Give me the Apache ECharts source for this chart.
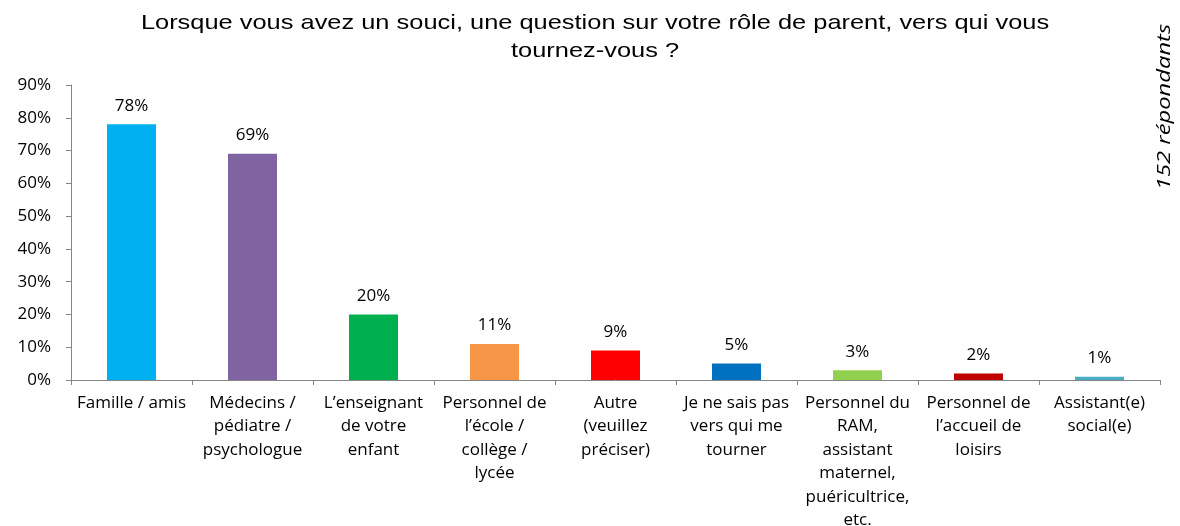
<!DOCTYPE html>
<html>
<head>
<meta charset="utf-8">
<script src="https://cdn.jsdelivr.net/npm/echarts@6/dist/echarts.min.js"></script>
<style>
  html, body { margin: 0; padding: 0; background: #fff; }
  #chart { width: 1180px; height: 526px; }
</style>
</head>
<body>
<div id="chart"></div>
<script>
// Answer categories (line breaks as shown under the axis)
const categories = [
  'Famille / amis',
  'Médecins /\npédiatre /\npsychologue',
  'L\u2019enseignant\nde votre\nenfant',
  'Personnel de\nl\u2019école /\ncollège /\nlycée',
  'Autre\n(veuillez\npréciser)',
  'Je ne sais pas\nvers qui me\ntourner',
  'Personnel du\nRAM,\nassistant\nmaternel,\npuéricultrice,\netc.',
  'Personnel de\nl\u2019accueil de\nloisirs',
  'Assistant(e)\nsocial(e)'
];
// Share of respondents, in percent
const values = [78, 69, 20, 11, 9, 5, 3, 2, 1];
const barColors = ['#00B0F0', '#8064A2', '#00B050', '#F79646', '#FF0000', '#0070C0', '#92D050', '#C00000', '#4BACC6'];
const yTicks = { min: 0, max: 90, interval: 10 };
const titleLines = [
  'Lorsque vous avez un souci, une question sur votre rôle de parent, vers qui vous',
  'tournez-vous ?'
];
const sideNote = '152 répondants';

const chart = echarts.init(document.getElementById('chart'));
const labelFont = '"Open Sans", "Noto Sans", sans-serif';

// Title lines, slightly widened sans-serif
const titleGraphics = titleLines.map((line, i) => ({
  type: 'text',
  x: 595,
  y: 23 + i * 28,
  scaleX: 1.21,
  style: {
    text: line,
    font: '21px "Liberation Sans", Arial, sans-serif',
    fill: '#000',
    textAlign: 'center',
    textVerticalAlign: 'middle'
  }
}));

chart.setOption({
  animation: false,
  graphic: titleGraphics.concat([{
    type: 'text',
    x: 1165,
    y: 107,
    rotation: Math.PI / 2,
    scaleX: 1.25,
    style: {
      text: sideNote,
      font: 'italic 19px "Open Sans", "Noto Sans", sans-serif',
      fill: '#000',
      textAlign: 'center',
      textVerticalAlign: 'middle'
    }
  }]),
  grid: { left: 71, right: 20, top: 85, bottom: 146, containLabel: false, outerBoundsMode: 'none' },
  xAxis: {
    type: 'category',
    data: categories,
    axisLine: { lineStyle: { color: '#868686', width: 1 } },
    axisTick: { show: true, alignWithLabel: false, length: 5, lineStyle: { color: '#868686' } },
    axisLabel: {
      interval: 0,
      margin: 11,
      fontFamily: labelFont,
      fontSize: 17,
      lineHeight: 23.5,
      color: '#000',
      align: 'center'
    }
  },
  yAxis: {
    type: 'value',
    min: yTicks.min,
    max: yTicks.max,
    interval: yTicks.interval,
    splitLine: { show: false },
    axisLine: { show: true, lineStyle: { color: '#868686', width: 1 } },
    axisTick: { show: true, length: 5, lineStyle: { color: '#868686' } },
    axisLabel: {
      formatter: '{value}%',
      fontFamily: labelFont,
      fontSize: 17,
      color: '#000',
      margin: 20
    }
  },
  series: [{
    type: 'bar',
    data: values.map((v, i) => ({ value: v, itemStyle: { color: barColors[i] } })),
    barWidth: 49,
    label: {
      show: true,
      position: 'top',
      distance: 10,
      formatter: '{c}%',
      fontFamily: labelFont,
      fontSize: 17,
      color: '#000'
    }
  }]
});
</script>
</body>
</html>
